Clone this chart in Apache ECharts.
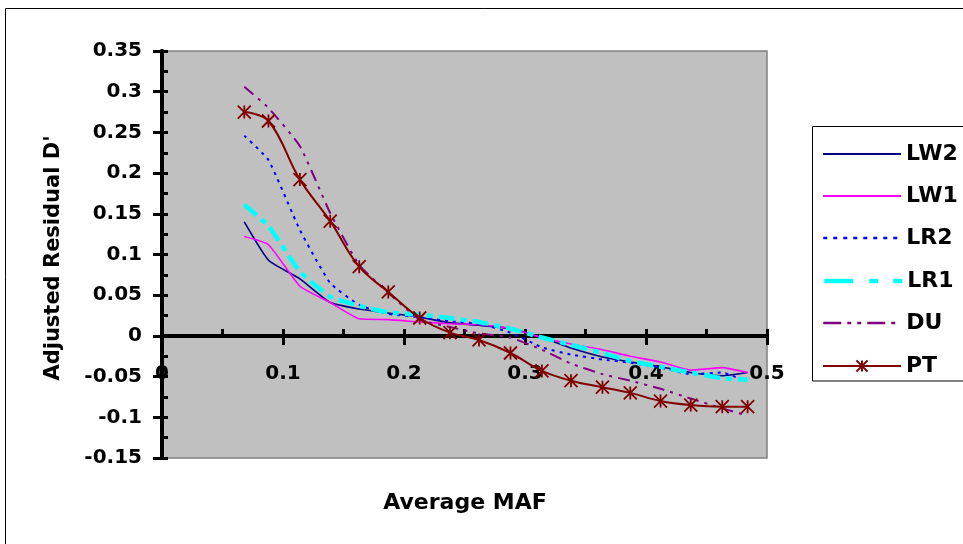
<!DOCTYPE html>
<html><head><meta charset="utf-8">
<script src="https://cdn.jsdelivr.net/npm/echarts@6/dist/echarts.min.js"></script>
<style>html,body{margin:0;padding:0;background:#fff}#c{width:963px;height:544px}</style>
</head><body><div id="c"></div>
<script>
var maf = [0.068, 0.088, 0.114, 0.139, 0.163, 0.187, 0.213, 0.238, 0.262, 0.288, 0.314, 0.338, 0.364, 0.387, 0.412, 0.437, 0.463, 0.484];
var LW2 = [0.140, 0.093, 0.070, 0.041, 0.033, 0.028, 0.023, 0.016, 0.013, 0.009, -0.002, -0.015, -0.026, -0.032, -0.038, -0.045, -0.049, -0.045];
var LW1 = [0.122, 0.112, 0.061, 0.041, 0.021, 0.020, 0.017, 0.015, 0.014, 0.009, -0.002, -0.010, -0.017, -0.025, -0.032, -0.042, -0.039, -0.045];
var LR2 = [0.246, 0.216, 0.130, 0.065, 0.038, 0.027, 0.023, 0.018, 0.015, 0.004, -0.014, -0.023, -0.029, -0.033, -0.039, -0.047, -0.045, -0.057];
var LR1 = [0.161, 0.135, 0.079, 0.048, 0.037, 0.029, 0.026, 0.022, 0.017, 0.009, -0.002, -0.011, -0.021, -0.031, -0.038, -0.045, -0.052, -0.054];
var DU  = [0.306, 0.280, 0.233, 0.151, 0.087, 0.053, 0.020, 0.011, 0.003, -0.002, -0.017, -0.034, -0.047, -0.055, -0.065, -0.077, -0.089, -0.098];
var PT  = [0.275, 0.264, 0.192, 0.141, 0.085, 0.054, 0.022, 0.004, -0.005, -0.021, -0.043, -0.055, -0.063, -0.070, -0.080, -0.085, -0.087, -0.087];
var seriesNames = ['LW2', 'LW1', 'LR2', 'LR1', 'DU', 'PT'];
var xRange = [0, 0.5], xStep = 0.1;
var yRange = [-0.15, 0.35], yStep = 0.05;
var xTitle = 'Average MAF';
var yTitle = "Adjusted Residual D'";

var FONT = 'DejaVu Sans';
var W = 963, H = 544;
var G = { left: 162, top: 51, right: 196, bottom: 86 };
function pairs(ys) { return maf.map(function (x, i) { return [x, ys[i]]; }); }

var styles = {
  LW2: { color: '#000080', width: 1.6, type: 'solid' },
  LW1: { color: '#FF00FF', width: 1.6, type: 'solid' },
  LR2: { color: '#0000FF', width: 2, type: [3, 5] },
  LR1: { color: '#00FFFF', width: 4.5, type: [16, 6, 6, 6] },
  DU:  { color: '#800080', width: 2, type: [12, 6, 3, 6, 3, 6] },
  PT:  { color: '#800000', width: 2, type: 'solid' }
};
var legendLine = {
  LW2: { width: 2, type: 'solid' },
  LW1: { width: 2, type: 'solid' },
  LR2: { width: 2.5, type: [4, 6] },
  LR1: { width: 4.5, type: [29, 16, 9, 15] },
  DU:  { width: 2.5, type: [18, 6, 4, 6, 4, 6] },
  PT:  { width: 2, type: 'solid' }
};
var dataMap = { LW2: LW2, LW1: LW1, LR2: LR2, LR1: LR1, DU: DU, PT: PT };

var series = seriesNames.map(function (n) {
  var s = styles[n];
  var o = {
    name: n, type: 'line', data: pairs(dataMap[n]),
    xAxisIndex: 0, yAxisIndex: 0,
    smooth: n === 'PT' ? 0.4 : 0.15,
    lineStyle: { color: s.color, width: s.width, type: s.type },
    itemStyle: { color: s.color },
    emphasis: { disabled: true },
    animation: false
  };
  if (n === 'PT') {
    o.symbol = 'path://M0,-10L0,10M-10,-10L10,10M-10,10L10,-10';
    o.symbolSize = 13;
    o.showSymbol = true;
    o.itemStyle = { color: s.color, borderColor: s.color, borderWidth: 1.8 };
  } else {
    o.symbol = 'none';
    o.showSymbol = false;
  }
  return o;
});

var legendCenters = [150, 192, 234, 277, 319, 362];
var legends = seriesNames.map(function (n, i) {
  var l = {
    data: [n], orient: 'vertical', left: 822, top: legendCenters[i] - 7,
    itemWidth: 78, itemHeight: 14, padding: 0, selectedMode: false,
    lineStyle: { color: styles[n].color, width: legendLine[n].width, type: legendLine[n].type },
    textStyle: { fontFamily: FONT, fontWeight: 'bold', fontSize: 22, color: '#000', lineHeight: 14 }
  };
  if (n !== 'PT') l.itemStyle = { opacity: 0 };
  return l;
});

// x axis sits at y = 0 : offset it up from the grid bottom by the scale's own proportion
var gridH = H - G.top - G.bottom;
var zeroOffset = -gridH * (0 - yRange[0]) / (yRange[1] - yRange[0]);

var lbl = { fontFamily: FONT, fontWeight: 'bold', fontSize: 20, color: '#000' };
var axLine = { show: true, onZero: false, lineStyle: { color: '#000', width: 4 } };
var tickStyle = { color: '#000', width: 3 };

var option = {
  backgroundColor: '#fff',
  animation: false,
  grid: { left: G.left, top: G.top, right: G.right, bottom: G.bottom, containLabel: false,
          show: true, backgroundColor: '#C0C0C0', borderColor: '#808080', borderWidth: 1.5 },
  legend: legends,
  xAxis: [
    { type: 'value', min: xRange[0], max: xRange[1], interval: xStep, position: 'bottom', offset: zeroOffset,
      axisLine: axLine, splitLine: { show: false },
      axisTick: { show: true, inside: false, length: 9, lineStyle: tickStyle },
      axisLabel: Object.assign({ margin: 28, showMinLabel: true, showMaxLabel: true }, lbl) },
    { type: 'value', min: xRange[0], max: xRange[1], interval: xStep, position: 'bottom', offset: zeroOffset,
      axisLine: axLine, splitLine: { show: false },
      axisTick: { show: true, inside: true, length: 7, lineStyle: tickStyle },
      minorTick: { show: true, splitNumber: 2, length: 7, lineStyle: tickStyle },
      axisLabel: { show: false } }
  ],
  yAxis: [
    { type: 'value', min: yRange[0], max: yRange[1], interval: yStep, position: 'left',
      axisLine: axLine, splitLine: { show: false },
      axisTick: { show: true, inside: false, length: 9, lineStyle: tickStyle },
      axisLabel: Object.assign({ margin: 20, showMinLabel: true, showMaxLabel: true }, lbl) },
    { type: 'value', min: yRange[0], max: yRange[1], interval: yStep, position: 'left',
      axisLine: axLine, splitLine: { show: false },
      axisTick: { show: true, inside: true, length: 6, lineStyle: tickStyle },
      minorTick: { show: true, splitNumber: 2, length: 6, lineStyle: tickStyle },
      axisLabel: { show: false } }
  ],
  graphic: [
    { type: 'rect', silent: true, z: -1, shape: { x: 5.5, y: 8.5, width: 1000, height: 600 },
      style: { fill: 'none', stroke: '#000', lineWidth: 1 } },
    { type: 'rect', silent: true, shape: { x: 812.5, y: 126.5, width: 200, height: 254.5 },
      style: { fill: 'none', stroke: '#000', lineWidth: 1 } },
    { type: 'text', silent: true, x: 465, y: 503,
      style: { text: xTitle, fontFamily: FONT, fontWeight: 'bold', fontSize: 22, fill: '#000',
               align: 'center', verticalAlign: 'middle' } },
    { type: 'text', silent: true, x: 54, y: 258, rotation: Math.PI / 2,
      style: { text: yTitle, fontFamily: FONT, fontWeight: 'bold', fontSize: 21, fill: '#000',
               align: 'center', verticalAlign: 'middle' } }
  ],
  series: series
};
var chart = echarts.init(document.getElementById('c'), null, { renderer: 'canvas' });
chart.setOption(option);
</script></body></html>
